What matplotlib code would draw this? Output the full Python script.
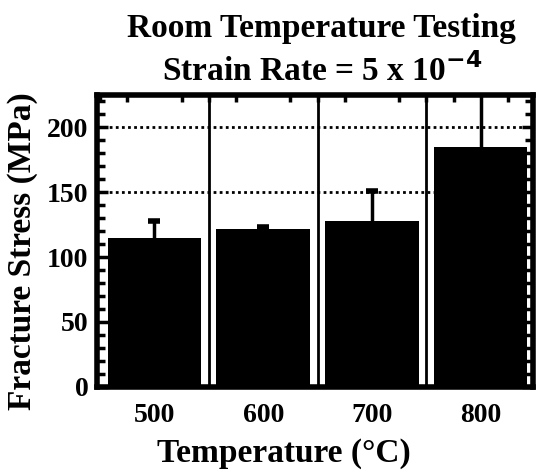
import numpy as np
import matplotlib.pyplot as plt
from matplotlib.ticker import MultipleLocator

# data
temperatures = ['500', '600', '700', '800']
fracture_stress = [115, 122, 128, 185]
stress_err_up = [13, 1, 23, 45]

plt.rcParams['font.family'] = 'Liberation Serif'
plt.rcParams['font.weight'] = 'bold'

fig = plt.figure(figsize=(5.41, 4.70), dpi=100)
ax = fig.add_axes([0.179, 0.177, 0.806, 0.621])

x = np.arange(len(temperatures))
tops = np.array(fracture_stress) + np.array(stress_err_up)

# grid first so the bars sit on top
for yv in [150, 200]:
    ax.axhline(yv, color='black', lw=2.0, ls=(0, (1, 1.2)), zorder=1)
for xv in [0.5, 1.5, 2.5]:
    ax.axvline(xv, color='black', lw=2.0, zorder=1)

ax.bar(x, fracture_stress, width=0.86, color='black', zorder=2)
# one-sided error bars, cap only at the upper end
ax.vlines(x, fracture_stress, tops, color='black', lw=2.5, zorder=3)
ax.plot(x, tops, ls='none', marker='_', ms=9, mew=4, color='black', zorder=3)

ax.set_xlim(-0.53, 3.48)
ax.set_ylim(0, 225)
ax.set_xticks(x)
ax.set_xticklabels(temperatures)
ax.set_yticks([0, 50, 100, 150, 200])
ax.yaxis.set_minor_locator(MultipleLocator(10))
ax.xaxis.set_minor_locator(MultipleLocator(0.25))

ax.tick_params(axis='y', which='both', direction='in', right=True, left=True,
               width=2.5, labelsize=20, pad=6)
ax.tick_params(axis='y', which='major', length=8)
ax.tick_params(axis='y', which='minor', length=6)
ax.tick_params(axis='x', which='major', length=0, labelsize=20, pad=12)
ax.tick_params(axis='x', which='minor', direction='in', top=True, bottom=False,
               length=5, width=2.5)

for s in ax.spines.values():
    s.set_linewidth(4)

ax.set_ylabel('Fracture Stress (MPa)', fontsize=24, fontweight='bold')
ax.yaxis.set_label_coords(-0.135, 0.466)
ax.set_xlabel('Temperature (\u00b0C)', fontsize=24, fontweight='bold')
ax.xaxis.set_label_coords(0.43, -0.175)

fig.text(0.595, 0.94, 'Room Temperature Testing', ha='center', va='center',
         fontsize=24, fontweight='bold')
fig.text(0.595, 0.85, 'Strain Rate = 5 x 10$^{-4}$', ha='center',
         va='center', fontsize=24, fontweight='bold')

fig.savefig('out.png', dpi=100)
